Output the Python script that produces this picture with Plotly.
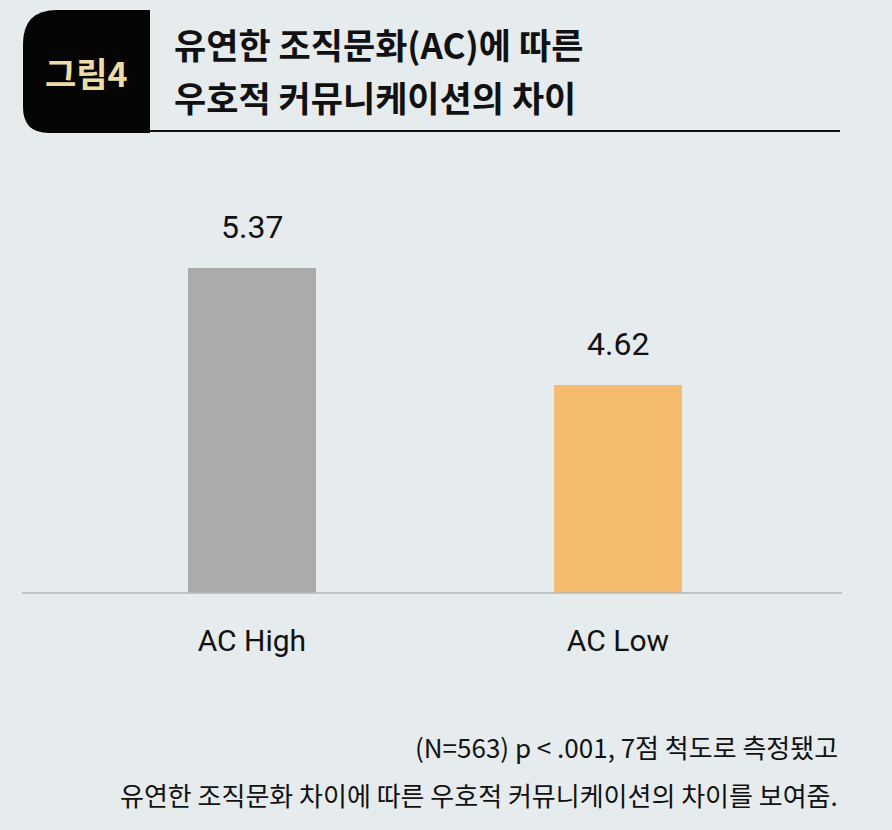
import plotly.graph_objects as go

# data
categories = ["AC High", "AC Low"]
scores = [5.37, 4.62]
bar_colors = ["#aaabaa", "#f5bb6e"]

title_lines = ["유연한 조직문화(AC)에 따른", "우호적 커뮤니케이션의 차이"]
figure_tag = "그림4"
note_lines = ["(N=563) p < .001, 7점 척도로 측정됐고",
              "유연한 조직문화 차이에 따른 우호적 커뮤니케이션의 차이를 보여줌."]

W, H = 892, 830
BG = "#e6ebee"
KR = "Noto Sans CJK KR"
LAT = "Roboto, Noto Sans, sans-serif"


def px(x):
    return x / W


def py(y):
    return 1 - y / H


fig = go.Figure()

fig.add_trace(go.Bar(
    x=categories,
    y=scores,
    marker=dict(color=bar_colors, line=dict(width=0)),
    width=0.35,
    hoverinfo="skip",
))


# black tag box with rounded left corners
def box_path(x0, y0, x1, y1, r_top, r_bot):
    return (f"M {px(x1)},{py(y0)} L {px(x0 + r_top)},{py(y0)} "
            f"Q {px(x0)},{py(y0)} {px(x0)},{py(y0 + r_top)} "
            f"L {px(x0)},{py(y1 - r_bot)} "
            f"Q {px(x0)},{py(y1)} {px(x0 + r_bot)},{py(y1)} "
            f"L {px(x1)},{py(y1)} Z")


fig.update_layout(
    width=W, height=H,
    margin=dict(l=0, r=0, t=0, b=0),
    paper_bgcolor=BG,
    plot_bgcolor=BG,
    showlegend=False,
    bargap=0,
    xaxis=dict(
        domain=[px(22), px(842)],
        range=[-0.628, 1.612],
        showgrid=False, zeroline=False,
        showline=False,
        ticks="", ticklabelstandoff=27,
        tickfont=dict(family=LAT, size=30, color="#111111"),
        fixedrange=True,
    ),
    yaxis=dict(
        domain=[py(593), py(150)],
        range=[3.287, 6.127],
        showgrid=False, zeroline=False,
        showline=False, showticklabels=False, ticks="",
        fixedrange=True,
    ),
)

fig.add_shape(type="path", xref="paper", yref="paper",
              path=box_path(23, 10, 150, 133, 34, 26),
              fillcolor="#050505", line=dict(width=0))
fig.add_shape(type="line", xref="paper", yref="paper",
              x0=px(150), x1=px(840), y0=py(131), y1=py(131),
              line=dict(color="#111111", width=2))
# baseline under the bars
fig.add_shape(type="line", xref="paper", yref="paper",
              x0=px(22), x1=px(842), y0=py(593), y1=py(593),
              line=dict(color="#b4b7b9", width=1.5))

# value labels above the bars
for c, v in zip(categories, scores):
    fig.add_annotation(x=c, y=v, xref="x", yref="y", text=f"{v:.2f}",
                       showarrow=False, yanchor="bottom", yshift=20,
                       font=dict(family=LAT, size=32, color="#111111"))

fig.add_annotation(x=px(86), y=py(73), xref="paper", yref="paper",
                   text=f"<b>{figure_tag}</b>", showarrow=False,
                   xanchor="center", yanchor="middle",
                   font=dict(family=KR, size=34, color="#eedca8"))
fig.add_annotation(x=px(172), y=py(43), xref="paper", yref="paper",
                   text=f"<b>{title_lines[0]}</b>", showarrow=False,
                   xanchor="left", yanchor="middle",
                   font=dict(family=KR, size=35, color="#111111"))
fig.add_annotation(x=px(172), y=py(96), xref="paper", yref="paper",
                   text=f"<b>{title_lines[1]}</b>", showarrow=False,
                   xanchor="left", yanchor="middle",
                   font=dict(family=KR, size=35, color="#111111"))
fig.add_annotation(x=px(840), y=py(746), xref="paper", yref="paper",
                   text=note_lines[0], showarrow=False,
                   xanchor="right", yanchor="middle",
                   font=dict(family=KR, size=26, color="#111111"))
fig.add_annotation(x=px(840), y=py(794), xref="paper", yref="paper",
                   text=note_lines[1], showarrow=False,
                   xanchor="right", yanchor="middle",
                   font=dict(family=KR, size=26, color="#111111"))

fig.write_html("out.html", config={"displayModeBar": False},
               post_script="document.body.style.margin='0px';")
